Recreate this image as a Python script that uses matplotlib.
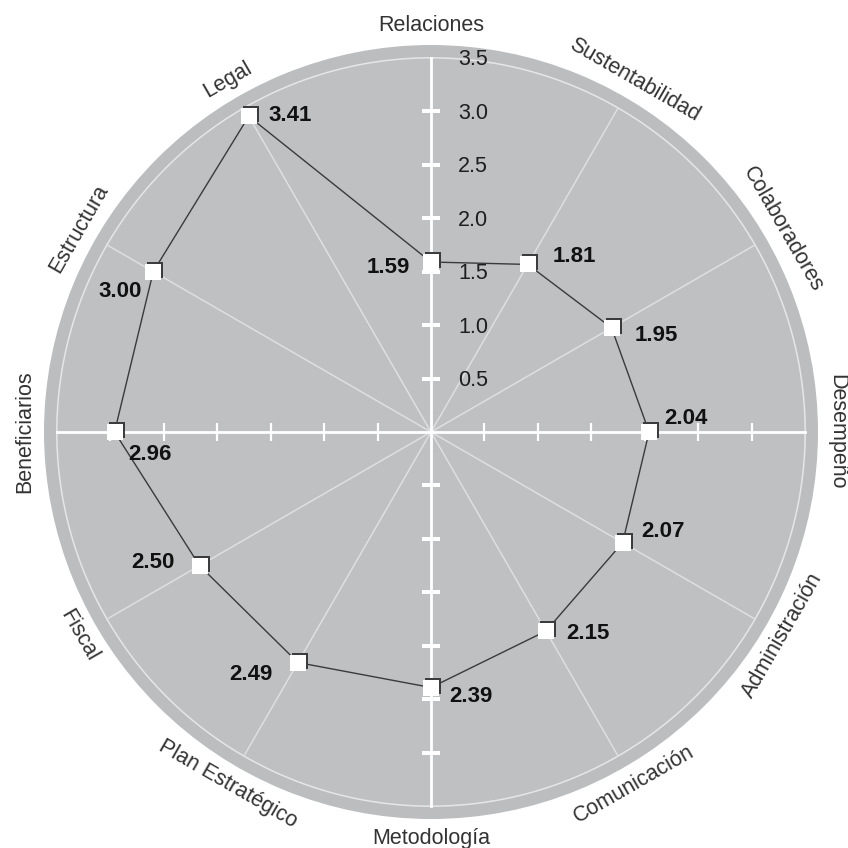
import numpy as np
import matplotlib
matplotlib.use("Agg")
import matplotlib.pyplot as plt
from matplotlib.transforms import ScaledTranslation

plt.rcParams["font.family"] = ["Liberation Sans", "DejaVu Sans"]

# Evaluation areas, clockwise from the top
categories = ["Relaciones", "Sustentabilidad", "Colaboradores", "Desempeño",
              "Administración", "Comunicación", "Metodología", "Plan Estratégico",
              "Fiscal", "Beneficiarios", "Estructura", "Legal"]
scores = [1.59, 1.81, 1.95, 2.04, 2.07, 2.15, 2.39, 2.49, 2.50, 2.96, 3.00, 3.41]
score_labels = ["1.59", "1.81", "1.95", "2.04", "2.07", "2.15",
                "2.39", "2.49", "2.50", "2.96", "3.00", "3.41"]
tick_values = [0.5, 1.0, 1.5, 2.0, 2.5, 3.0, 3.5]
tick_labels = ["0.5", "1.0", "1.5", "2.0", "2.5", "3.0", "3.5"]

R_GRID = 3.5
R_EDGE = 3.62
R_NAMES = 3.80

# label placement next to each marker: (dx px, dy px, alignment)
label_offsets = [(-21, -5, "right"), (25, 8, "left"), (23, -8, "left"),
                 (15, 14, "left"), (19, 11, "left"), (20, -2, "left"),
                 (18, -9, "left"), (-25, -12, "right"), (-25, 3, "right"),
                 (35, -22, "center"), (-33, -20, "center"), (20, 1, "left")]

DPI = 100
fig = plt.figure(figsize=(8.48, 8.48), dpi=DPI, facecolor="white")
cx, cy, rad = 431, 848 - 432, 387
ax = fig.add_axes([(cx - rad) / 848, (cy - rad) / 848, 2 * rad / 848, 2 * rad / 848],
                  projection="polar")
ax.set_theta_zero_location("N")
ax.set_theta_direction(-1)
ax.set_ylim(0, R_EDGE)
ax.set_facecolor("#bcbdbf")
ax.grid(False)
ax.set_xticks([])
ax.set_yticks([])
ax.spines["polar"].set_visible(False)

n = len(categories)
angles = np.deg2rad(np.arange(n) * 360.0 / n)

# inner disk and boundary circle
full = np.linspace(0, 2 * np.pi, 361)
ax.fill_between(full, 0, R_GRID, color="#bfc0c2", zorder=0.5, linewidth=0)
ax.plot(full, np.full_like(full, R_GRID), color="#e6e6e6", lw=1.1, zorder=1)

# spokes
for i, a in enumerate(angles):
    if i % 3 == 0:
        ax.plot([a, a], [0, R_GRID], color="white", lw=2.0, zorder=1.2)
    else:
        ax.plot([a, a], [0, R_GRID], color="#dedfe0", lw=1.1, zorder=1.1)

# tick marks along the four main axes
ticks = np.array(tick_values[:-1])
for a, mk in [(0, "_"), (np.pi / 2, "|"), (np.pi, "_"), (3 * np.pi / 2, "|")]:
    ax.plot(np.full_like(ticks, a), ticks, linestyle="none", marker=mk,
            markersize=13, markeredgewidth=1.6, color="white", zorder=1.3)

# scale labels on the upper vertical axis
for v, t in zip(tick_values, tick_labels):
    ax.annotate(t, xy=(0, v), xytext=(27 * 0.72, -2 * 0.72), textcoords="offset points",
                ha="left", va="center", fontsize=15.5, color="#1e1e1e", zorder=3)

# profile line
th_closed = np.append(angles, angles[0])
sc_closed = np.append(scores, scores[0])
ax.plot(th_closed, sc_closed, color="#3a3a3a", lw=1.0, zorder=4)

# markers with a small dark shadow toward the upper right
shadow = ax.transData + ScaledTranslation(2 / DPI, 2 / DPI, fig.dpi_scale_trans)
ax.plot(angles, scores, linestyle="none", marker="s", markersize=12,
        markerfacecolor="#3c3c3c", markeredgewidth=0, transform=shadow, zorder=5)
ax.plot(angles, scores, linestyle="none", marker="s", markersize=12,
        markerfacecolor="white", markeredgewidth=0, zorder=6)

# value labels
for a, s, lab, (dx, dy, ha) in zip(angles, scores, score_labels, label_offsets):
    ax.annotate(lab, xy=(a, s), xytext=(dx * 0.72, dy * 0.72),
                textcoords="offset points", ha=ha, va="center",
                fontsize=16, fontweight="bold", color="#111111", zorder=7)

# category names around the rim
for i, (a, name) in enumerate(zip(angles, categories)):
    deg = i * 360.0 / n
    rot = 180 - deg if 90 < deg < 270 else -deg
    ax.text(a, R_NAMES, name, rotation=rot, rotation_mode="anchor",
            ha="center", va="center", fontsize=15.5, color="#333333",
            clip_on=False, zorder=7)

fig.savefig("out.png", dpi=DPI, facecolor="white")
